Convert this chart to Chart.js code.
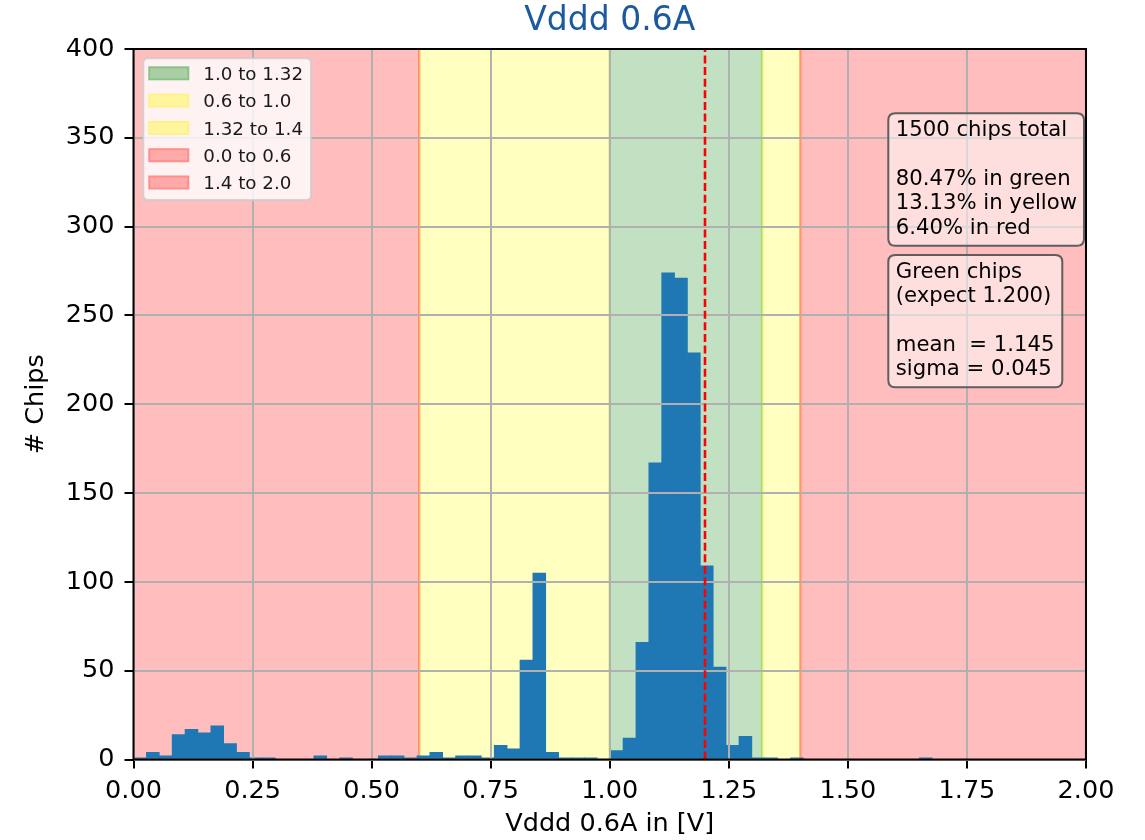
<!DOCTYPE html>
<html><head><meta charset="utf-8">
<script src="https://cdn.jsdelivr.net/npm/chart.js@4/dist/chart.umd.min.js"></script>
<style>html,body{margin:0;padding:0;background:#fff}canvas{display:block}</style>
</head><body>
<canvas id="c" width="1145" height="840"></canvas>
<script>
// ---------- data ----------
const binStart = 0.0;
const binWidth = 0.02705;
const binCounts = [
  1, 4, 2, 14, 17, 15, 19, 9, 4, 1,
  1, 0, 0, 0, 2, 0, 1, 0, 0, 2,
  2, 1, 2, 4, 1, 2, 2, 1, 8, 6,
  56, 105, 4, 1, 1, 1, 0, 5, 12, 66,
  167, 274, 271, 229, 109, 52, 8, 13, 1, 1,
  0, 1, 0, 0, 0, 0, 0, 0, 0, 0,
  0, 1
];
const spanLabels = ['1.0 to 1.32', '0.6 to 1.0', '1.32 to 1.4', '0.0 to 0.6', '1.4 to 2.0'];
const spanFrom = [1.0, 0.6, 1.32, 0.0, 1.4];
const spanTo = [1.32, 1.0, 1.4, 0.6, 2.0];
const spanKind = ['green', 'yellow', 'yellow', 'red', 'red'];
const expectValue = 1.2;
const xRange = [0, 2];
const yRange = [0, 400];
const xTickStep = 0.25;
const yTickStep = 50;
const titleText = 'Vddd 0.6A';
const xTitle = 'Vddd 0.6A in [V]';
const yTitle = '# Chips';
const summaryLines = ['1500 chips total', '', '80.47% in green', '13.13% in yellow', '6.40% in red'];
const greenLines = ['Green chips', '(expect 1.200)', '', 'mean  = 1.145', 'sigma = 0.045'];

// ---------- styles ----------
const FONT = 'DejaVu Sans';
const spanStyle = {
  green:  {fill: 'rgba(0,128,0,0.24)',   edge: 'rgba(0,128,0,0.24)',   lgFill: '#aacfa6', lgEdge: '#8cc189'},
  yellow: {fill: 'rgba(255,255,0,0.25)', edge: 'rgba(255,255,0,0.25)', lgFill: '#fff59c', lgEdge: '#fff08a'},
  red:    {fill: 'rgba(255,0,0,0.26)',   edge: 'rgba(255,0,0,0.26)',   lgFill: '#ffa9a9', lgEdge: '#ff8e8e'}
};

const binCenters = binCounts.map((_, i) => binStart + (i + 0.5) * binWidth);
const histData = binCounts.map((c, i) => ({x: binCenters[i], y: c}));

function roundRect(ctx, x, y, w, h, r) {
  ctx.beginPath();
  ctx.moveTo(x + r, y);
  ctx.lineTo(x + w - r, y);
  ctx.quadraticCurveTo(x + w, y, x + w, y + r);
  ctx.lineTo(x + w, y + h - r);
  ctx.quadraticCurveTo(x + w, y + h, x + w - r, y + h);
  ctx.lineTo(x + r, y + h);
  ctx.quadraticCurveTo(x, y + h, x, y + h - r);
  ctx.lineTo(x, y + r);
  ctx.quadraticCurveTo(x, y, x + r, y);
  ctx.closePath();
}

const decorPlugin = {
  id: 'decor',
  beforeDatasetsDraw(chart) {
    const {ctx, chartArea: a, scales: {x}} = chart;
    ctx.save();
    ctx.beginPath();
    ctx.rect(a.left, a.top, a.right - a.left, a.bottom - a.top);
    ctx.clip();
    for (let i = 0; i < spanFrom.length; i++) {
      const st = spanStyle[spanKind[i]];
      const x0 = x.getPixelForValue(spanFrom[i]);
      const x1 = x.getPixelForValue(spanTo[i]);
      ctx.fillStyle = st.fill;
      ctx.fillRect(x0, a.top, x1 - x0, a.bottom - a.top);
      ctx.strokeStyle = st.edge;
      ctx.lineWidth = 2.5;
      ctx.strokeRect(x0, a.top - 5, x1 - x0, a.bottom - a.top + 10);
    }
    ctx.restore();
  },
  afterDraw(chart) {
    const {ctx, chartArea: a, scales: {x}} = chart;
    ctx.save();
    // expected value line
    const xe = x.getPixelForValue(expectValue);
    ctx.strokeStyle = '#ff0000';
    ctx.lineWidth = 2.6;
    ctx.setLineDash([8, 3.6]);
    ctx.beginPath();
    ctx.moveTo(xe, a.bottom);
    ctx.lineTo(xe, a.top);
    ctx.stroke();
    ctx.setLineDash([]);
    // spines
    ctx.strokeStyle = '#000';
    ctx.lineWidth = 2;
    ctx.strokeRect(a.left, a.top, a.right - a.left, a.bottom - a.top);

    // legend
    const lx = a.left + 9.8, ly = a.top + 9.3, lw = 167.7, lh = 141.7;
    roundRect(ctx, lx, ly, lw, lh, 5);
    ctx.fillStyle = 'rgba(255,255,255,0.8)';
    ctx.fill();
    ctx.strokeStyle = 'rgba(204,204,204,0.8)';
    ctx.lineWidth = 2;
    ctx.stroke();
    ctx.font = '18.3px "' + FONT + '"';
    ctx.textBaseline = 'alphabetic';
    ctx.textAlign = 'left';
    for (let i = 0; i < spanLabels.length; i++) {
      const st = spanStyle[spanKind[i]];
      const cy = ly + 15 + i * 27.3;
      ctx.fillStyle = st.lgFill;
      ctx.fillRect(lx + 6, cy - 6, 39, 12);
      ctx.strokeStyle = st.lgEdge;
      ctx.lineWidth = 2;
      ctx.strokeRect(lx + 6, cy - 6, 39, 12);
      ctx.fillStyle = '#1a1a1a';
      ctx.fillText(spanLabels[i], lx + 60, cy + 6.7);
    }

    // text boxes
    function textBox(lines, bx, by, bw, bh, firstBase) {
      roundRect(ctx, bx, by, bw, bh, 7);
      ctx.fillStyle = 'rgba(255,255,255,0.5)';
      ctx.fill();
      ctx.strokeStyle = '#5e5e5e';
      ctx.lineWidth = 2;
      ctx.stroke();
      ctx.fillStyle = '#000';
      ctx.font = '21.2px "' + FONT + '"';
      lines.forEach((t, i) => {
        if (t) ctx.fillText(t, bx + 7.5, firstBase + i * 24.4);
      });
    }
    textBox(summaryLines, a.left + 754.8, a.top + 64.3, 195.7, 132.4, a.top + 87);
    textBox(greenLines, a.left + 754.8, a.top + 206, 174, 132.3, a.top + 228.7);
    ctx.restore();
  }
};

new Chart(document.getElementById('c'), {
  type: 'bar',
  data: {
    datasets: [{
      label: 'Vddd',
      data: histData,
      backgroundColor: '#1f77b4',
      borderWidth: 0,
      barPercentage: 1.0,
      categoryPercentage: 1.0
    }]
  },
  options: {
    responsive: false,
    animation: false,
    events: [],
    layout: {padding: {left: 0, right: 59, top: 0, bottom: 0}},
    plugins: {
      legend: {display: false},
      tooltip: {enabled: false},
      title: {
        display: true,
        text: titleText,
        fullSize: false,
        color: '#1b5a9e',
        font: {family: FONT, size: 33, weight: 'normal', lineHeight: 1.2},
        padding: {top: 1.6, bottom: 7.8}
      }
    },
    scales: {
      x: {
        type: 'linear',
        min: xRange[0], max: xRange[1],
        offset: false,
        grid: {offset: false, color: '#b0b0b0', lineWidth: 2, z: 1,
               tickColor: '#000', tickWidth: 2, tickLength: 9},
        border: {display: false},
        ticks: {stepSize: xTickStep, padding: 8, color: '#000', maxRotation: 0,
                font: {family: FONT, size: 25.5},
                callback: v => Number(v).toFixed(2)},
        title: {display: true, text: xTitle, color: '#000',
                font: {family: FONT, size: 25.5, lineHeight: 1.2},
                padding: {top: 0, bottom: 0.5}},
        afterFit: s => { s.height = 80.5; }
      },
      y: {
        min: yRange[0], max: yRange[1],
        grid: {color: '#b0b0b0', lineWidth: 2, z: 1,
               tickColor: '#000', tickWidth: 2, tickLength: 9},
        border: {display: false},
        ticks: {stepSize: yTickStep, padding: 10, color: '#000',
                font: {family: FONT, size: 25.5}},
        title: {display: true, text: yTitle, color: '#000',
                font: {family: FONT, size: 25.5, lineHeight: 1.2},
                padding: {top: 21, bottom: 0}},
        afterFit: s => { s.width = 133.5; }
      }
    }
  },
  plugins: [decorPlugin]
});
</script>
</body></html>
